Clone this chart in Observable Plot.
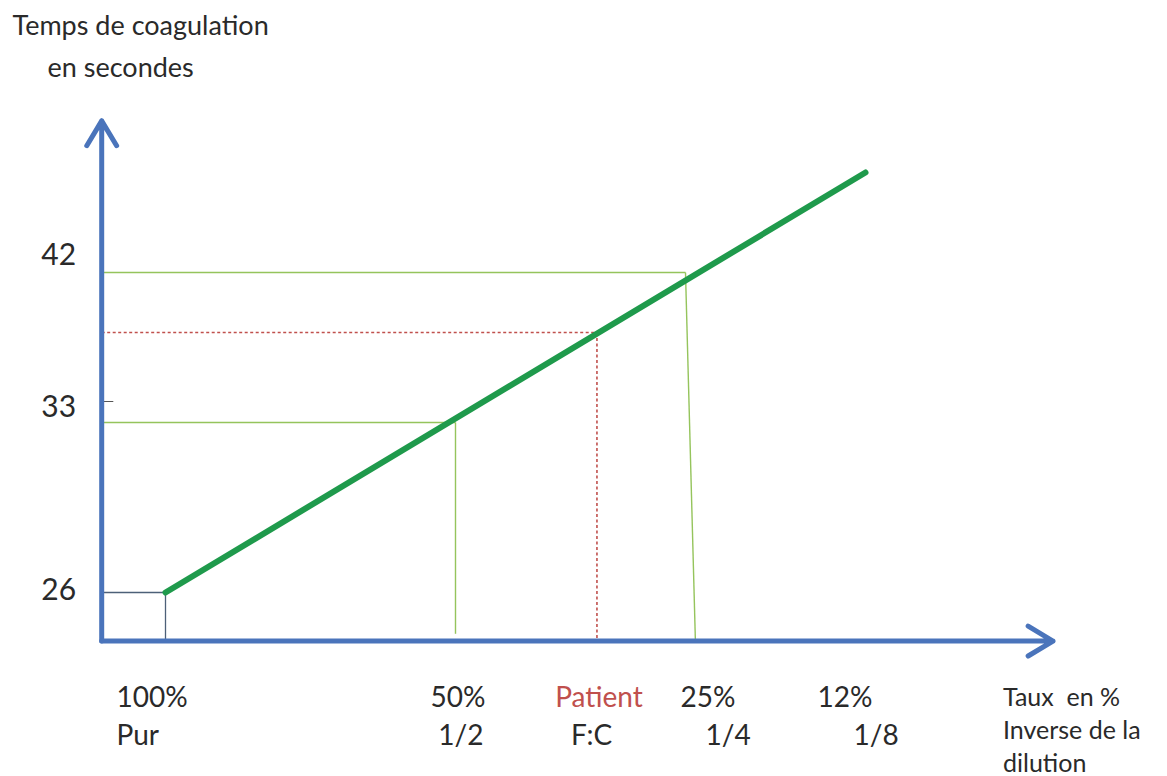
<!DOCTYPE html>
<html><head><meta charset="utf-8">
<script src="https://cdn.jsdelivr.net/npm/d3@7"></script>
<script src="https://cdn.jsdelivr.net/npm/@observablehq/plot@0.6"></script>
<style>body{margin:0;background:#fff}#chart svg{display:block}#chart svg text{white-space:pre}</style>
</head><body><div id="chart"></div>
<script>
// ---------- DATA ----------
const dilutionLevel   = [0, 1, 2, 3];               // log2 of the dilution factor
const dilutionPercent = ["100%", "50%", "25%", "12%"];
const dilutionInverse = ["Pur", "1/2", "1/4", "1/8"];
const calibLevel      = [0, 1, 2];                  // points read on the calibration line
const calibTime       = [26, 33, 42];               // seconds
const yTickValues     = [26, 33, 42];
const patientName     = "Patient";
const patientCode     = "F:C";
const patientLevel    = 1.615;
const patientTime     = 38.4;
const lineLevel       = [0, 3];                     // calibration line end points
const lineTime        = [26, 48];
const yTitle          = ["Temps de coagulation", "en secondes"];
const xTitle          = ["Taux  en %", "Inverse de la", "dilution"];

// ---------- LAYOUT ----------
const W = 1167, H = 776;
const axisLevel = -0.22, axisTime = 24, xEnd = 4.25, yEnd = 51.1;
const blue = "#4a74bb", green = "#1f9a4c", guide = "#95c45c", red = "#c0504d";
const font = "Lato, 'Open Sans', sans-serif";
const ink = "#2a2a2a";

const calib = calibLevel.map((l, i) => ({l, t: calibTime[i]}));
const line = lineLevel.map((l, i) => ({l, t: lineTime[i]}));

// Pur box
const purH = {x1: axisLevel, y1: calibTime[0], x2: calibLevel[0], y2: calibTime[0]};
const purV = {x1: calibLevel[0], y1: calibTime[0], x2: calibLevel[0], y2: axisTime};
// green guides (1/2 and 1/4)
const gH = calib.slice(1).map(d => ({x1: axisLevel, y1: d.t, x2: d.l, y2: d.t}));
const gV = [
  {x1: calib[1].l, y1: calib[1].t, x2: calib[1].l, y2: 24.3},
  {x1: calib[2].l, y1: calib[2].t, x2: calib[2].l + 0.055, y2: axisTime}
];
const pH = {x1: axisLevel, y1: patientTime, x2: patientLevel, y2: patientTime};
const pV = {x1: patientLevel, y1: patientTime, x2: patientLevel, y2: axisTime};

const txt = (text, x, y, o) => Plot.text([text], {x: () => x, y: () => y, text: d => d,
  fontFamily: font, fill: ink, lineAnchor: "middle", ...o});

const topRow = [
  {s: dilutionPercent[0], x: dilutionLevel[0], dx: -49, a: "start"},
  {s: dilutionPercent[1], x: dilutionLevel[1], dx: 30, a: "end"},
  {s: patientName, x: patientLevel, dx: 2, a: "middle", fill: red},
  {s: dilutionPercent[2], x: dilutionLevel[2], dx: -5, a: "start"},
  {s: dilutionPercent[3], x: dilutionLevel[3], dx: -48, a: "start"},
];
const botRow = [
  {s: dilutionInverse[0], x: dilutionLevel[0], dx: -49, a: "start"},
  {s: dilutionInverse[1], x: dilutionLevel[1], dx: 28, a: "end"},
  {s: patientCode, x: patientLevel, dx: -26, a: "start"},
  {s: dilutionInverse[2], x: dilutionLevel[2], dx: 20, a: "start"},
  {s: dilutionInverse[3], x: dilutionLevel[3], dx: -12, a: "start"},
];
const yLabDy = [-2, -15, -17];

const marks = [
  Plot.link([purH, purV], {x1: "x1", y1: "y1", x2: "x2", y2: "y2", stroke: "#4d6078", strokeWidth: 1.3}),
  Plot.link([...gH, ...gV], {x1: "x1", y1: "y1", x2: "x2", y2: "y2", stroke: guide, strokeWidth: 1.4}),
  Plot.link([pH, pV], {x1: "x1", y1: "y1", x2: "x2", y2: "y2", stroke: red, strokeWidth: 1.6, strokeDasharray: "3,2.5"}),
  Plot.line(line, {x: "l", y: "t", stroke: green, strokeWidth: 6}),
  Plot.link([{x1: axisLevel, y1: 34.26, x2: axisLevel + 0.04, y2: 34.26}], {x1: "x1", y1: "y1", x2: "x2", y2: "y2", stroke: "#555", strokeWidth: 1}),
  Plot.arrow([{x1: axisLevel, y1: axisTime, x2: axisLevel, y2: yEnd}, {x1: axisLevel, y1: axisTime, x2: xEnd, y2: axisTime}],
    {x1: "x1", y1: "y1", x2: "x2", y2: "y2", stroke: blue, strokeWidth: 5, headLength: 8.7, headAngle: 62, strokeLinecap: "round", strokeLinejoin: "round"}),
  ...yTickValues.map((v, i) => txt(String(v), axisLevel, v, {dx: -43, dy: yLabDy[i], fontSize: 30, textAnchor: "middle"})),
  ...topRow.map(d => txt(d.s, d.x, axisTime, {dx: d.dx, dy: 57, fontSize: 28, textAnchor: d.a, fill: d.fill || ink})),
  ...botRow.map(d => txt(d.s, d.x, axisTime, {dx: d.dx, dy: 95, fontSize: 28, textAnchor: d.a})),
  ...xTitle.map((s, i) => txt(s, xEnd, axisTime, {dx: -50, dy: 57 + 33 * i, fontSize: 25, textAnchor: "start"})),
  Plot.text([yTitle[0]], {frameAnchor: "top-left", dx: 12, dy: 26, text: d => d, fontFamily: font, fill: ink, fontSize: 27, textAnchor: "start", lineAnchor: "middle"}),
  Plot.text([yTitle[1]], {frameAnchor: "top-left", dx: 47, dy: 68, text: d => d, fontFamily: font, fill: ink, fontSize: 27, textAnchor: "start", lineAnchor: "middle"}),
];

const chart = Plot.plot({
  width: W, height: H, margin: 0,
  x: {type: "linear", domain: [-1, 0, 1, 2, 3, 5], range: [-125, 165, 455, 685, 865, 1165], axis: null},
  y: {type: "linear", domain: [0, 26, 33, 42, 80], range: [1223.5, 592, 422, 272, -361.3], axis: null},
  style: {background: "#fff"},
  marks
});
document.getElementById("chart").append(chart);
</script>
</body></html>
